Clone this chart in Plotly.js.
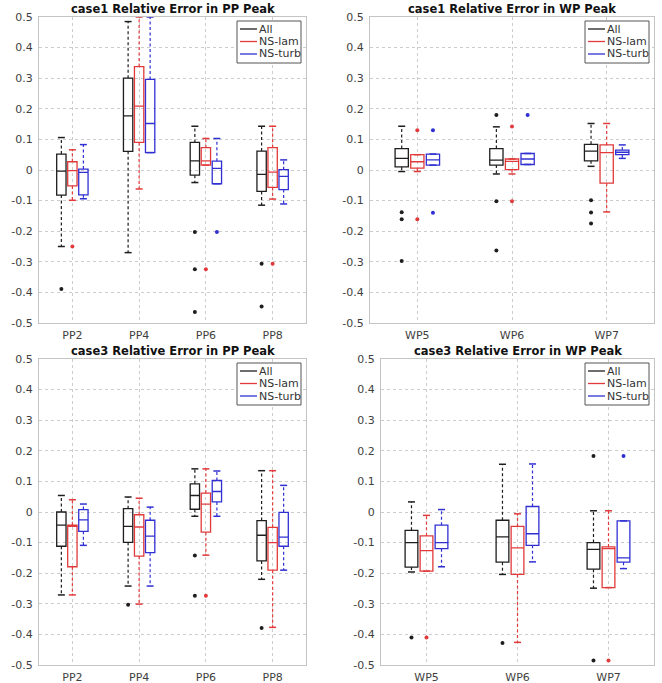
<!DOCTYPE html>
<html>
<head>
<meta charset="utf-8">
<script src="https://cdn.plot.ly/plotly-3.0.1.min.js"></script>
<style>html,body{margin:0;padding:0;background:#fff;}#chart{width:662px;height:683px;}</style>
</head>
<body>
<div id="chart"></div>
<script>
// ---------- data ----------
const seriesNames = ['All', 'NS-lam', 'NS-turb'];
const seriesColors = ['#1e1e1e', '#e23a3a', '#3030d2'];

const ppCats = ['PP2', 'PP4', 'PP6', 'PP8'];
const wpCats = ['WP5', 'WP6', 'WP7'];

const yTickVals = [-0.5, -0.4, -0.3, -0.2, -0.1, 0, 0.1, 0.2, 0.3, 0.4, 0.5];
const yTickText = ['-0.5', '-0.4', '-0.3', '-0.2', '-0.1', '0', '0.1', '0.2', '0.3', '0.4', '0.5'];

const panelTitles = ['case1 Relative Error in PP Peak', 'case1 Relative Error in WP Peak',
                     'case3 Relative Error in PP Peak', 'case3 Relative Error in WP Peak'];

// case1, PP peak
const c1ppAll  = {lo: [-0.250, -0.270, -0.041, -0.115], q1: [-0.082, 0.061, -0.017, -0.070], med: [-0.004, 0.177, 0.030, -0.014], q3: [0.052, 0.300, 0.090, 0.062], hi: [0.106, 0.485, 0.143, 0.143]};
const c1ppLam  = {lo: [-0.099, -0.062, 0.016, -0.095], q1: [-0.052, 0.090, 0.016, -0.057], med: [-0.002, 0.209, 0.030, -0.007], q3: [0.027, 0.338, 0.073, 0.073], hi: [0.066, 0.500, 0.103, 0.143]};
const c1ppTurb = {lo: [-0.094, 0.057, -0.045, -0.111], q1: [-0.081, 0.057, -0.045, -0.064], med: [-0.008, 0.152, 0.005, -0.021], q3: [0.003, 0.296, 0.029, 0.001], hi: [0.083, 0.500, 0.103, 0.033]};
const c1ppAllOut  = [[-0.389], [], [-0.203, -0.324, -0.464], [-0.306, -0.446]];
const c1ppLamOut  = [[-0.250], [], [-0.324], [-0.306]];
const c1ppTurbOut = [[], [], [-0.203], []];

// case1, WP peak
const c1wpAll  = {lo: [-0.005, -0.013, 0.012], q1: [0.010, 0.016, 0.030], med: [0.038, 0.032, 0.062], q3: [0.070, 0.070, 0.084], hi: [0.143, 0.141, 0.152]};
const c1wpLam  = {lo: [-0.005, -0.013, -0.137], q1: [0.006, 0.001, -0.043], med: [0.027, 0.028, 0.057], q3: [0.050, 0.036, 0.082], hi: [0.050, 0.036, 0.152]};
const c1wpTurb = {lo: [0.016, 0.018, 0.038], q1: [0.016, 0.018, 0.050], med: [0.033, 0.036, 0.058], q3: [0.052, 0.054, 0.065], hi: [0.052, 0.054, 0.082]};
const c1wpAllOut  = [[-0.138, -0.161, -0.297], [0.180, -0.102, -0.263], [-0.099, -0.139, -0.175]];
const c1wpLamOut  = [[0.130, -0.161], [0.142, -0.102], []];
const c1wpTurbOut = [[0.130, -0.140], [0.180], []];

// case3, PP peak
const c3ppAll  = {lo: [-0.271, -0.242, -0.014, -0.220], q1: [-0.112, -0.099, 0.009, -0.160], med: [-0.043, -0.047, 0.054, -0.076], q3: [0.000, 0.011, 0.092, -0.028], hi: [0.054, 0.049, 0.141, 0.135]};
const c3ppLam  = {lo: [-0.271, -0.301, -0.141, -0.377], q1: [-0.179, -0.144, -0.066, -0.190], med: [-0.047, -0.049, 0.026, -0.100], q3: [-0.043, -0.009, 0.062, -0.050], hi: [0.040, 0.045, 0.141, 0.135]};
const c3ppTurb = {lo: [-0.109, -0.242, -0.014, -0.190], q1: [-0.063, -0.133, 0.033, -0.112], med: [-0.026, -0.079, 0.067, -0.082], q3: [0.008, -0.027, 0.103, -0.001], hi: [0.026, 0.016, 0.134, 0.087]};
const c3ppAllOut  = [[], [-0.303], [-0.142, -0.274], [-0.379]];
const c3ppLamOut  = [[], [], [-0.274], []];
const c3ppTurbOut = [[], [], [], []];

// case3, WP peak
const c3wpAll  = {lo: [-0.196, -0.204, -0.249], q1: [-0.180, -0.164, -0.187], med: [-0.100, -0.081, -0.122], q3: [-0.060, -0.027, -0.100], hi: [0.033, 0.156, 0.004]};
const c3wpLam  = {lo: [-0.193, -0.426, -0.247], q1: [-0.193, -0.204, -0.247], med: [-0.126, -0.117, -0.120], q3: [-0.078, -0.047, -0.114], hi: [-0.011, -0.006, 0.004]};
const c3wpTurb = {lo: [-0.179, -0.163, -0.185], q1: [-0.120, -0.109, -0.164], med: [-0.100, -0.071, -0.150], q3: [-0.043, 0.018, -0.029], hi: [0.008, 0.157, -0.029]};
const c3wpAllOut  = [[-0.410], [-0.428], [0.183, -0.485]];
const c3wpLamOut  = [[-0.410], [], [-0.485]];
const c3wpTurbOut = [[], [], [0.183]];

// ---------- build ----------
const W = 662, H = 683;
const offsets = [-0.165, 0, 0.165];
const boxWidth = 0.14;
const FONT = 'DejaVu Sans, Verdana, sans-serif';

const panels = [
  {cats: ppCats, stats: [c1ppAll, c1ppLam, c1ppTurb], outs: [c1ppAllOut, c1ppLamOut, c1ppTurbOut],
   px: [39, 306], py: [17, 323]},
  {cats: wpCats, stats: [c1wpAll, c1wpLam, c1wpTurb], outs: [c1wpAllOut, c1wpLamOut, c1wpTurbOut],
   px: [370, 654], py: [17, 323]},
  {cats: ppCats, stats: [c3ppAll, c3ppLam, c3ppTurb], outs: [c3ppAllOut, c3ppLamOut, c3ppTurbOut],
   px: [39, 306], py: [359, 665]},
  {cats: wpCats, stats: [c3wpAll, c3wpLam, c3wpTurb], outs: [c3wpAllOut, c3wpLamOut, c3wpTurbOut],
   px: [381, 654], py: [359, 665]}
];

const traces = [];
const layout = {
  width: W, height: H,
  margin: {l: 0, r: 0, t: 0, b: 0},
  paper_bgcolor: '#fff', plot_bgcolor: '#fff',
  showlegend: false,
  boxmode: 'overlay',
  font: {family: FONT, size: 11, color: '#3a3a3a'},
  annotations: [], shapes: []
};
const fx = px => px / W;
const fy = py => 1 - py / H;

panels.forEach((p, k) => {
  const n = k + 1;
  const xa = 'x' + (n === 1 ? '' : n);
  const ya = 'y' + (n === 1 ? '' : n);
  const catIdx = p.cats.map((c, i) => i + 1);

  p.stats.forEach((st, s) => {
    const color = seriesColors[s];
    const pos = catIdx.map(v => v + offsets[s]);
    // box body (quartiles + median)
    traces.push({
      type: 'box', x: pos, q1: st.q1, median: st.med, q3: st.q3,
      lowerfence: st.q1, upperfence: st.q3,
      width: boxWidth, whiskerwidth: 0, boxpoints: false,
      line: {color: color, width: 1.3}, fillcolor: 'rgba(0,0,0,0)',
      xaxis: xa, yaxis: ya, name: seriesNames[s], hoverinfo: 'skip'
    });
    // dashed whiskers
    const wx = [], wy = [];
    pos.forEach((x, i) => {
      wx.push(x, x, null, x, x, null);
      wy.push(st.q3[i], st.hi[i], null, st.q1[i], st.lo[i], null);
    });
    traces.push({
      type: 'scatter', mode: 'lines', x: wx, y: wy,
      line: {color: color, width: 1.2, dash: '3px,2.5px'},
      xaxis: xa, yaxis: ya, hoverinfo: 'skip'
    });
    // whisker caps
    traces.push({
      type: 'scatter', mode: 'markers',
      x: pos.concat(pos), y: st.hi.concat(st.lo),
      marker: {symbol: 'line-ew', size: 5, color: color, line: {color: color, width: 1.5}},
      xaxis: xa, yaxis: ya, hoverinfo: 'skip'
    });
    // outliers
    const ox = [], oy = [];
    p.outs[s].forEach((vals, i) => vals.forEach(v => { ox.push(pos[i]); oy.push(v); }));
    traces.push({
      type: 'scatter', mode: 'markers', x: ox, y: oy,
      marker: {symbol: 'circle', size: 4, color: color},
      xaxis: xa, yaxis: ya, hoverinfo: 'skip'
    });
  });

  const axCommon = {
    showgrid: true, gridcolor: '#cccccc', griddash: 'dot', gridwidth: 1,
    zeroline: false, showline: true, mirror: true, linecolor: '#c4c4c4', linewidth: 1,
    ticks: '', tickfont: {family: FONT, size: 11, color: '#3f3f3f'}, fixedrange: true
  };
  layout['xaxis' + (n === 1 ? '' : n)] = Object.assign({}, axCommon, {
    domain: [fx(p.px[0]), fx(p.px[1])], anchor: ya,
    range: [0.5, p.cats.length + 0.5],
    tickvals: catIdx, ticktext: p.cats, ticklabelstandoff: 2
  });
  layout['yaxis' + (n === 1 ? '' : n)] = Object.assign({}, axCommon, {
    domain: [fy(p.py[1]), fy(p.py[0])], anchor: xa,
    range: [-0.5, 0.5], tickvals: yTickVals, ticktext: yTickText, ticklabelstandoff: 3
  });
  layout.annotations.push({
    text: '<b>' + panelTitles[k] + '</b>', showarrow: false,
    xref: xa + ' domain', yref: ya + ' domain', x: 0.5, y: 1,
    xanchor: 'center', yanchor: 'bottom', yshift: -1,
    font: {family: FONT, size: 11.5, color: '#111'}
  });

  // compact legend box (MATLAB style) in the top-right corner of the panel
  const lgR = p.px[1] - 5, lgL = lgR - 64, lgT = p.py[0] + 4, lgB = lgT + 42;
  layout.shapes.push({
    type: 'rect', xref: 'paper', yref: 'paper',
    x0: fx(lgL), x1: fx(lgR), y0: fy(lgB), y1: fy(lgT),
    line: {color: '#555', width: 1}, fillcolor: '#fff', layer: 'above'
  });
  seriesNames.forEach((name, s) => {
    const rowY = lgT + 8 + s * 12.5;
    layout.shapes.push({
      type: 'line', xref: 'paper', yref: 'paper',
      x0: fx(lgL + 3), x1: fx(lgL + 20), y0: fy(rowY), y1: fy(rowY),
      line: {color: seriesColors[s], width: 1.3}, layer: 'above'
    });
    layout.annotations.push({
      text: name, showarrow: false, xref: 'paper', yref: 'paper',
      x: fx(lgL + 20), y: fy(rowY), xanchor: 'left', yanchor: 'middle',
      font: {family: FONT, size: 11, color: '#333'}
    });
  });
});

Plotly.newPlot('chart', traces, layout, {staticPlot: true, displayModeBar: false});
</script>
</body>
</html>
